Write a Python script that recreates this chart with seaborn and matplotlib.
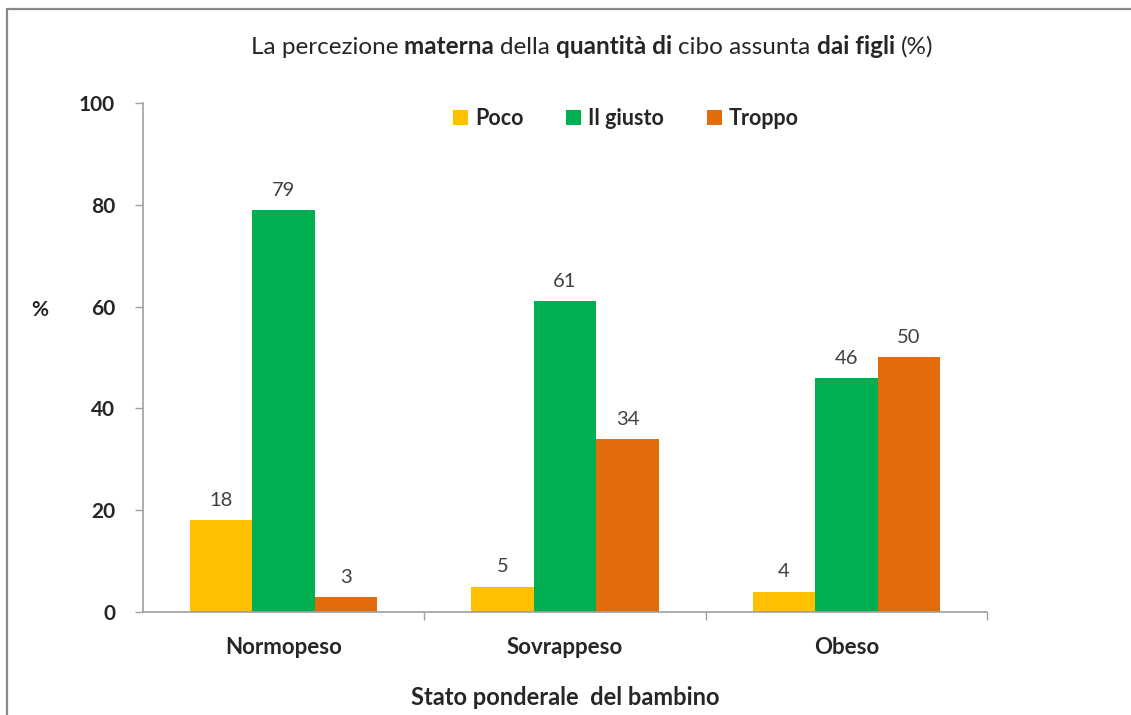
import numpy as np
import pandas as pd
import seaborn as sns
import matplotlib.pyplot as plt
from matplotlib.lines import Line2D
from matplotlib.ticker import FixedLocator

# data
categories = ["Normopeso", "Sovrappeso", "Obeso"]
poco = [18, 5, 4]
giusto = [79, 61, 46]
troppo = [3, 34, 50]
series_names = ["Poco", "Il giusto", "Troppo"]
colors = ["#FFC000", "#00B050", "#E36C0A"]

df = pd.DataFrame({
    "stato": categories * 3,
    "risposta": np.repeat(series_names, 3),
    "valore": poco + giusto + troppo,
})

sns.set_theme(style="white")
plt.rcParams["font.family"] = ["Lato", "DejaVu Sans"]

fig = plt.figure(figsize=(11.31, 7.15), dpi=100)
ax = fig.add_axes([0.1264, 0.1441, 0.8727 - 0.1264, 0.856 - 0.1441])

sns.barplot(data=df, x="stato", y="valore", hue="risposta", order=categories,
            hue_order=series_names, palette=colors, saturation=1, width=0.667,
            linewidth=0, ax=ax, legend=True)

for cont in ax.containers:
    ax.bar_label(cont, padding=8, fontsize=14.5, color="#404040")

ax.set_xlim(-0.5, 2.5)
ax.set_ylim(0, 100)
ax.set_yticks(range(0, 101, 20))
ax.tick_params(axis="y", which="major", direction="out", length=6, width=1,
               color="#A0A0A0", labelsize=15, pad=14, left=True)
ax.tick_params(axis="x", which="major", length=0, labelsize=16, pad=18)
ax.xaxis.set_minor_locator(FixedLocator([0.5, 1.5, 2.5]))
ax.tick_params(axis="x", which="minor", direction="out", length=6, width=1,
               color="#A0A0A0", bottom=True)
for lab in ax.get_yticklabels() + ax.get_xticklabels():
    lab.set_fontweight("bold")

for s in ["top", "right"]:
    ax.spines[s].set_visible(False)
for s in ["left", "bottom"]:
    ax.spines[s].set_color("#A0A0A0")
    ax.spines[s].set_linewidth(1.2)

ax.set_xlabel("Stato ponderale  del bambino", fontsize=17, fontweight="bold",
              labelpad=20)
ax.set_ylabel("")
fig.text(40 / 1131, 1 - 310 / 715, "%", fontsize=15, fontweight="bold",
         ha="center", va="center")

ax.legend(loc="center", bbox_to_anchor=(0.572, 0.97), ncol=3, frameon=False,
          prop={"weight": "bold", "size": 15.5},
          handlelength=0.7, handleheight=0.7, handletextpad=0.3,
          columnspacing=2.0)

# title with mixed weights
pieces = [("La percezione ", "normal"), ("materna ", "bold"), ("della ", "normal"),
          ("quantità di ", "bold"), ("cibo assunta ", "normal"),
          ("dai figli ", "bold"), ("(%)", "normal")]
renderer = fig.canvas.get_renderer()
texts = []
for txt, w in pieces:
    t = fig.text(0, 1 - 47 / 715, txt, fontsize=17.5, fontweight=w, va="center")
    texts.append(t)
widths = [t.get_window_extent(renderer).width / fig.bbox.width for t in texts]
x = 592 / 1131 - sum(widths) / 2
for t, wd in zip(texts, widths):
    t.set_x(x)
    x += wd

# outer border (only top/left visible in the reference)
fig.add_artist(Line2D([7 / 1131, 7 / 1131], [0, 1 - 9 / 715],
                      transform=fig.transFigure, color="#888888", lw=1.6))
fig.add_artist(Line2D([7 / 1131, 1], [1 - 9 / 715, 1 - 9 / 715],
                      transform=fig.transFigure, color="#888888", lw=1.6))

fig.savefig("out.png", dpi=100)
